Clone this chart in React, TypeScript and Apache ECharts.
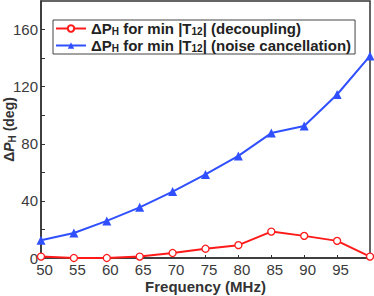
import React, { useEffect, useRef } from 'react';
import * as echarts from 'echarts';

const frequencies = [50, 55, 60, 65, 70, 75, 80, 85, 90, 95, 100];
const decoupling = [1, 0, 0, 1, 3.5, 6.5, 9, 18.5, 15.5, 12, 1];
const noiseCancellation = [12.5, 17.5, 26, 35.5, 46.5, 58.5, 71.5, 87.5, 92.5, 114.5, 141.5];
const yTickLabels = [0, 40, 80, 120, 160];
const xTickLabels = [50, 55, 60, 65, 70, 75, 80, 85, 90, 95];

const FONT = 'Liberation Sans, Arial, sans-serif';

export default function App() {
  const ref = useRef<HTMLDivElement>(null);
  useEffect(() => {
    if (!ref.current) return;
    const chart = echarts.init(ref.current, undefined, { renderer: 'svg' });
    const legendNames: Record<string, string> = {
      dec: 'ΔP{sub|H} for min |T{sub|12}| (decoupling)',
      noise: 'ΔP{sub|H} for min |T{sub|12}| (noise cancellation)',
    };
    chart.setOption({
      animation: false,
      grid: {
        left: 41,
        right: 4,
        top: 1,
        bottom: 38,
        show: true,
        borderColor: '#333',
        borderWidth: 1.5,
        containLabel: false,
        outerBoundsMode: 'none',
      },
      legend: {
        orient: 'vertical',
        left: 53,
        top: 20,
        padding: [1, 4, 1, 2],
        itemGap: 2,
        itemWidth: 30,
        itemHeight: 8,
        borderColor: '#444',
        borderWidth: 1,
        data: ['dec', 'noise'],
        formatter: (n: string) => legendNames[n],
        textStyle: {
          fontFamily: FONT,
          fontWeight: 'bold',
          fontSize: 15,
          color: '#222',
          lineHeight: 14,
          rich: {
            sub: {
              fontFamily: FONT,
              fontWeight: 'bold',
              fontSize: 10,
              color: '#222',
              lineHeight: 9,
              padding: [5, 0, 0, 0],
            },
          },
        },
      },
      xAxis: {
        type: 'value',
        min: 50,
        max: 100,
        interval: 5,
        name: 'Frequency (MHz)',
        nameLocation: 'middle',
        nameGap: 21,
        nameMoveOverlap: false,
        nameTextStyle: { fontFamily: FONT, fontWeight: 'bold', fontSize: 15, lineHeight: 14, color: '#333' },
        axisLine: { show: true, lineStyle: { color: '#333', width: 1.5 } },
        axisTick: { show: true, inside: true, length: 3, lineStyle: { color: '#333' } },
        splitLine: { show: false },
        axisLabel: {
          fontFamily: FONT,
          fontSize: 15,
          lineHeight: 14,
          color: '#3a3a3a',
          margin: 4,
          padding: [0, 0, 0, 7],
          showMaxLabel: false,
          formatter: (v: number) => (xTickLabels.includes(v) ? String(v) : ''),
        },
      },
      yAxis: {
        type: 'value',
        min: 0,
        max: 180,
        interval: 20,
        name: 'Δ{it|P}{sub|H} (deg)',
        nameLocation: 'middle',
        nameGap: 24,
        nameRotate: 90,
        nameMoveOverlap: false,
        nameTextStyle: {
          fontFamily: FONT,
          fontWeight: 'bold',
          fontSize: 14,
          color: '#333',
          rich: {
            it: { fontFamily: FONT, fontWeight: 'bold', fontStyle: 'italic', fontSize: 14, color: '#333' },
            sub: { fontFamily: FONT, fontWeight: 'bold', fontSize: 10, color: '#333', padding: [7, 0, 0, 0] },
          },
        },
        axisLine: { show: true, lineStyle: { color: '#333', width: 1.5 } },
        axisTick: { show: true, inside: true, length: 4, lineStyle: { color: '#333' } },
        splitLine: { show: false },
        axisLabel: {
          fontFamily: FONT,
          fontSize: 15,
          color: '#3a3a3a',
          margin: 3,
          showMaxLabel: false,
          formatter: (v: number) => (yTickLabels.includes(v) ? String(v) : ''),
        },
      },
      series: [
        {
          name: 'dec',
          type: 'line',
          data: frequencies.map((f, i) => [f, decoupling[i]]),
          symbol: 'circle',
          symbolSize: 7,
          itemStyle: { color: '#ffffff', borderColor: '#ff1a1a', borderWidth: 1.3 },
          lineStyle: { color: '#ff1a1a', width: 2 },
          z: 3,
        },
        {
          name: 'noise',
          type: 'line',
          data: frequencies.map((f, i) => [f, noiseCancellation[i]]),
          symbol: 'triangle',
          symbolSize: 9,
          itemStyle: { color: '#3050ff' },
          lineStyle: { color: '#3050ff', width: 2 },
          z: 2,
        },
      ],
    });
    return () => chart.dispose();
  }, []);
  return <div ref={ref} style={{ width: 374, height: 296, position: 'absolute', left: 0, top: 0 }} />;
}
